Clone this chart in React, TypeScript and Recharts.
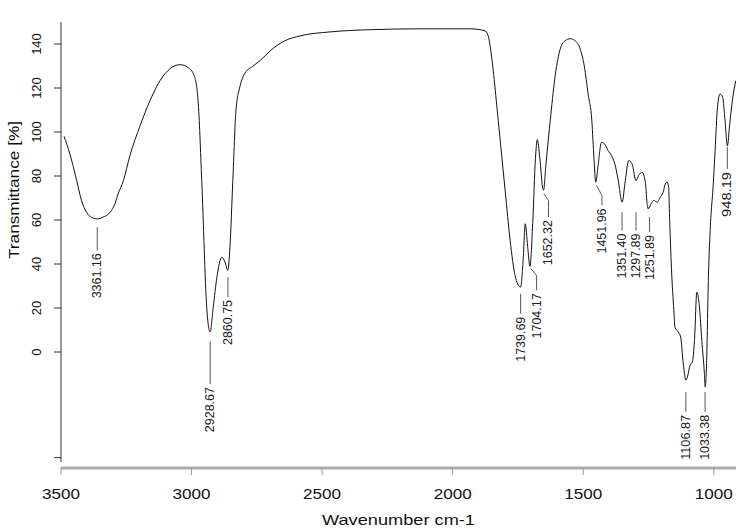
import { Label, Line, LineChart, ReferenceDot, ReferenceLine, XAxis, YAxis } from "recharts";

const FONT = '"Liberation Sans", Arial, Helvetica, sans-serif';

// spectrum: wavenumber (cm-1) and transmittance (%)
const wavenumbers = [
  3488, 3466, 3440, 3422, 3402, 3383, 3361, 3339, 3312, 3293, 3281, 3261, 3236, 3197, 3159, 3121, 3082,
  3044, 3013, 2990, 2975, 2961, 2942, 2929, 2917, 2903, 2884, 2872, 2861, 2853, 2842, 2830, 2814, 2795,
  2768, 2738, 2699, 2642, 2584, 2469, 2316, 2125, 1933, 1876, 1864, 1849, 1833, 1818, 1799, 1780, 1761,
  1740, 1730, 1722, 1713, 1704, 1693, 1683, 1676, 1666, 1656, 1652, 1643, 1635, 1624, 1607, 1588, 1569,
  1550, 1531, 1512, 1496, 1481, 1467, 1459, 1452, 1444, 1430, 1418, 1405, 1392, 1379, 1367, 1351, 1339,
  1326, 1313, 1298, 1288, 1275, 1262, 1256, 1252, 1240, 1230, 1217, 1205, 1194, 1186, 1179, 1173, 1169,
  1161, 1152, 1149, 1136, 1127, 1117, 1107, 1101, 1091, 1082, 1074, 1065, 1055, 1046, 1036, 1033, 1027,
  1021, 1014, 1002, 995, 986, 976, 966, 957, 948, 939, 929, 916,
];
const transmittance = [
  98, 90, 78, 69, 63.5, 61.2, 60.5, 61.3, 63.5, 67.5, 71.9, 77.9, 89.3, 102.9, 114.3, 123.3, 128.8,
  130.6, 129.3, 125.6, 114.3, 77.9, 20.4, 9.1, 20.4, 34, 43.1, 40.9, 37.1, 47.7, 77.9, 109.7, 121, 126.9,
  129.7, 132.4, 136.9, 141.5, 143.7, 145.5, 146.5, 146.9, 146.9, 146, 143.7, 132.4, 114.3, 96.1, 73.3, 50.7, 34.8,
  29.5, 42, 58.3, 48, 38.9, 60, 88, 96.5, 88, 75, 73.5, 85, 95, 108, 126, 137.8, 141.5,
  142.4, 141.5, 137.8, 130, 117, 105, 88, 77.2, 84, 95.3, 94.6, 91.6, 89.3, 85.5, 78.7, 68.1, 77.9,
  87, 85.5, 77.9, 80.2, 81.7, 77.2, 68.1, 65.1, 67.4, 68.9, 68.1, 70.4, 72.6, 76.4, 77.2, 74.9, 59.8,
  35, 17, 11.3, 9.1, 6.8, -5.3, -12.8, -11.3, -6, -4.5, 5.3, 27.2, 20.4, 5.3, -9.8, -15.9, -2.3,
  32.5, 55.2, 76.4, 91.6, 111.2, 117.3, 115.8, 105.2, 93.8, 103.7, 114.2, 123.3,
];

const xTicks = [3500, 3000, 2500, 2000, 1500, 1000];
const yTicks = [-48, 0, 20, 40, 60, 80, 100, 120, 140];

// peak picks: text, where the leader starts, where it turns vertical, where it ends
const peakLabels = [
  "3361.16", "2928.67", "2860.75", "1739.69", "1704.17", "1652.32", "1451.96",
  "1351.40", "1297.89", "1251.89", "1106.87", "1033.38", "948.19",
];
const peakX = [3361.16, 2928.67, 2860.75, 1739.69, 1700, 1651, 1449, 1351.4, 1297.89, 1246, 1106.87, 1033.38, 948.19];
const peakTipY = [56.7, 4.9, 34, 26.5, 37.8, 71.9, 75.7, 63.5, 63.5, 61.3, -18.2, -18.2, 93.1];
const leaderX = [3361.16, 2928.67, 2860.75, 1739.69, 1678.6, 1633, 1428.4, 1351.4, 1297.89, 1246, 1106.87, 1033.38, 948.19];
const leaderTopY = [56.7, 4.9, 34, 26.5, 34.8, 68.9, 71.1, 63.5, 63.5, 61.3, -18.2, -18.2, 93.1];
const leaderEndY = [46.2, -14.6, 25, 17.4, 28, 61.3, 66.6, 55.2, 55.2, 54.5, -27.2, -27.2, 83.2];

const data = wavenumbers.map((w, i) => ({ w, t: transmittance[i] }));

function XTick({ x, y, payload }: any) {
  return (
    <g>
      <line x1={x} x2={x} y1={y + 6} y2={y + 13} stroke="#999" />
      <text x={x} y={y + 37} textAnchor="middle" fontSize={15} fontFamily={FONT} fill="#111"
        textLength={38} lengthAdjust="spacingAndGlyphs">
        {payload.value}
      </text>
    </g>
  );
}

function YTick({ x, y, payload }: any) {
  if (payload.value < 0) return <g />;
  const tx = x - 16;
  return (
    <text x={tx} y={y} transform={`rotate(-90, ${tx}, ${y})`} textAnchor="middle" dominantBaseline="central"
      fontSize={13} fontFamily={FONT} fill="#111">
      {payload.value}
    </text>
  );
}

const peakText = (text: string) => (props: any) => {
  const vb = props.viewBox || {};
  const x = vb.x + (vb.width || 0) / 2;
  const y = vb.y + (vb.height || 0) / 2 + 3;
  return (
    <text x={x} y={y} transform={`rotate(-90, ${x}, ${y})`} textAnchor="end" dominantBaseline="central"
      fontSize={12.5} fontFamily={FONT} fill="#1a1a1a" textLength={45} lengthAdjust="spacingAndGlyphs">
      {text}
    </text>
  );
};

const XTitle = (props: any) => {
  const vb = props.viewBox;
  return (
    <text x={vb.x + vb.width / 2} y={vb.y + 63} textAnchor="middle" fontSize={15} fontFamily={FONT} fill="#111"
      textLength={153} lengthAdjust="spacingAndGlyphs">
      Wavenumber cm-1
    </text>
  );
};

const YTitle = () => (
  <text x={13} y={190} transform="rotate(-90, 13, 190)" textAnchor="middle" dominantBaseline="central"
    fontSize={15} fontFamily={FONT} fill="#111" textLength={138} lengthAdjust="spacingAndGlyphs">
    Transmittance [%]
  </text>
);

export default function App() {
  return (
    <div style={{ position: "absolute", left: 0, top: 0, width: 736, height: 531, background: "#fff" }}>
      <LineChart width={736} height={531} data={data} margin={{ top: 22, right: 0, bottom: 9, left: 0 }}>
        <XAxis dataKey="w" type="number" domain={[915, 3500]} reversed allowDataOverflow ticks={xTicks}
          axisLine={false} tickLine={false} tickSize={0} tickMargin={0} height={60} tick={XTick}>
          <Label content={XTitle} />
        </XAxis>
        <YAxis type="number" domain={[-50, 150]} allowDataOverflow ticks={yTicks} width={61} tickSize={7}
          axisLine={{ stroke: "#333" }} tickLine={{ stroke: "#333" }} tick={YTick}>
          <Label content={YTitle} />
        </YAxis>
        <ReferenceLine y={-52.7} ifOverflow="visible" stroke="#aaa" strokeWidth={3} />
        {peakLabels.map((label, i) =>
          peakX[i] !== leaderX[i] ? (
            <ReferenceLine key={`s${i}`} segment={[{ x: peakX[i], y: peakTipY[i] }, { x: leaderX[i], y: leaderTopY[i] }]}
              stroke="#555" ifOverflow="visible" />
          ) : null
        )}
        {peakLabels.map((label, i) => (
          <ReferenceLine key={`v${i}`} segment={[{ x: leaderX[i], y: leaderTopY[i] }, { x: leaderX[i], y: leaderEndY[i] }]}
            stroke="#555" ifOverflow="visible" />
        ))}
        {peakLabels.map((label, i) => (
          <ReferenceDot key={`d${i}`} x={leaderX[i]} y={leaderEndY[i]} r={0} fill="none" stroke="none"
            ifOverflow="visible" label={peakText(label)} />
        ))}
        <Line dataKey="t" type="monotone" stroke="#111" strokeWidth={1} dot={false} isAnimationActive={false} />
      </LineChart>
    </div>
  );
}
